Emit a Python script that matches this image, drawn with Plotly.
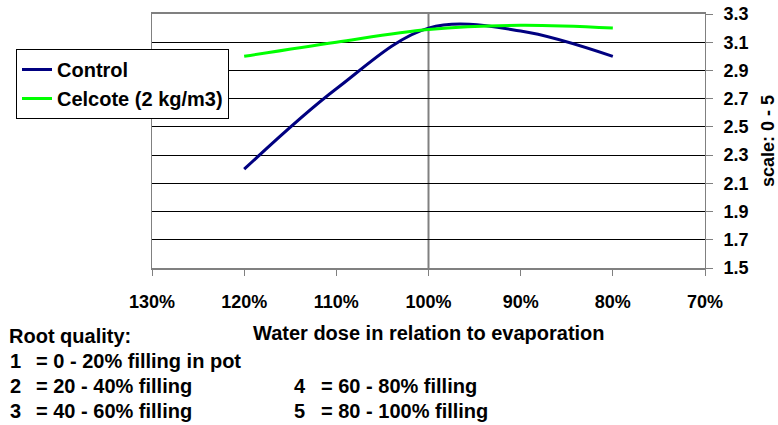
import plotly.graph_objects as go

# ---- data ----
water_dose = [120, 110, 100, 90, 80]          # % of evaporation
control = [2.2, 2.77, 3.2, 3.18, 3.0]
celcote = [3.0, 3.1, 3.19, 3.22, 3.2]
series_names = ["Control", "Celcote (2 kg/m3)"]
x_ticks = [130, 120, 110, 100, 90, 80, 70]
y_ticks = [1.5, 1.7, 1.9, 2.1, 2.3, 2.5, 2.7, 2.9, 3.1, 3.3]
x_title = "Water dose in relation to evaporation"
y_title = "scale: 0 - 5"
legend_head = "Root quality:"
quality_nums = ["1", "2", "3", "4", "5"]
quality_text = ["= 0 - 20% filling in pot", "= 20 - 40% filling", "= 40 - 60% filling",
                "= 60 - 80% filling", "= 80 - 100% filling"]

# ---- layout geometry (pixels) ----
W, H = 778, 425
PL, PR, PT, PB = 152, 705, 14, 268
pw, ph = PR - PL, PB - PT

def px(x):
    return (x - PL) / pw

def py(y):
    return (PB - y) / ph

FONT = "Liberation Sans, Arial, sans-serif"

fig = go.Figure()
fig.add_trace(go.Scatter(x=water_dose, y=control, name="<b>" + series_names[0] + "</b>", mode="lines",
                         line=dict(color="#000080", width=3, shape="spline", smoothing=1)))
fig.add_trace(go.Scatter(x=water_dose, y=celcote, name="<b>" + series_names[1] + "</b>", mode="lines",
                         line=dict(color="#00FF00", width=3, shape="spline", smoothing=1)))

fig.add_shape(type="line", xref="x", yref="paper", x0=100, x1=100, y0=0, y1=1,
              line=dict(color="#808080", width=2), layer="below")

annotations = []
annotations.append(dict(text="<b>" + x_title + "</b>", x=0.5, y=py(333), xref="paper", yref="paper",
                        showarrow=False, xanchor="center", yanchor="middle",
                        font=dict(size=20, family=FONT, color="black")))
annotations.append(dict(text="<b>" + y_title + "</b>", x=px(768), y=0.5, xref="paper", yref="paper",
                        showarrow=False, xanchor="center", yanchor="middle", textangle=-90,
                        font=dict(size=18, family=FONT, color="black")))
annotations.append(dict(text="<b>" + legend_head + "</b>", x=px(7), y=py(336), xref="paper", yref="paper",
                        showarrow=False, xanchor="left", yanchor="middle",
                        font=dict(size=20, family=FONT, color="black")))
row_y = [361, 386, 411, 386, 411]
num_x = [8, 8, 8, 292, 292]
txt_x = [34, 34, 34, 319, 319]
for n, t, yy, nx, tx in zip(quality_nums, quality_text, row_y, num_x, txt_x):
    annotations.append(dict(text="<b>" + n + "</b>", x=px(nx), y=py(yy), xref="paper", yref="paper",
                            showarrow=False, xanchor="left", yanchor="middle",
                            font=dict(size=20, family=FONT, color="black")))
    annotations.append(dict(text="<b>" + t + "</b>", x=px(tx), y=py(yy), xref="paper", yref="paper",
                            showarrow=False, xanchor="left", yanchor="middle",
                            font=dict(size=20, family=FONT, color="black")))

fig.update_layout(
    width=W, height=H,
    margin=dict(l=PL, r=W - PR, t=PT, b=H - PB, pad=0, autoexpand=False),
    paper_bgcolor="white", plot_bgcolor="white",
    font=dict(family=FONT, color="black"),
    showlegend=True,
    legend=dict(x=16 / W, y=1 - 49 / H, xref="container", yref="container",
                xanchor="left", yanchor="top",
                bgcolor="white", bordercolor="black", borderwidth=1,
                font=dict(size=20, family=FONT, color="black"),
                tracegroupgap=0, itemwidth=30),
    annotations=annotations,
    xaxis=dict(range=[130, 70], tickvals=x_ticks, ticktext=[f"<b>{v}%</b>" for v in x_ticks],
               showgrid=False, zeroline=False, showline=True, linecolor="#808080", linewidth=2,
               mirror=True, ticks="outside", ticklen=6, tickcolor="#808080", tickwidth=1,
               tickfont=dict(size=18, family=FONT, color="black"),
               ticklabelstandoff=10, automargin=False),
    yaxis=dict(range=[1.5, 3.3], side="right", tickvals=y_ticks,
               ticktext=[f"<b>{v:.1f}</b>" for v in y_ticks],
               showgrid=True, gridcolor="black", gridwidth=1, zeroline=False,
               showline=True, linecolor="#808080", linewidth=1, mirror=True,
               ticks="outside", ticklen=7, tickcolor="#808080", tickwidth=1,
               tickfont=dict(size=18, family=FONT, color="black"),
               ticklabelstandoff=7, automargin=False),
)

fig.write_html("out.html", config={"displayModeBar": False},
               post_script="document.body.style.margin='0';document.body.style.padding='0';")
